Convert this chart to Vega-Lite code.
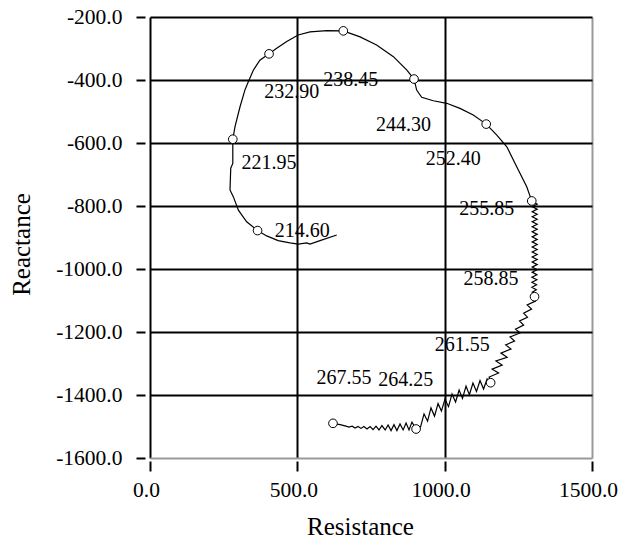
{
  "$schema": "https://vega.github.io/schema/vega-lite/v6.json",
  "width": 442,
  "height": 441,
  "autosize": {"type": "none"},
  "padding": {"left": 150, "top": 17, "right": 27, "bottom": 81},
  "background": "white",
  "config": {"view": {"stroke": null}, "font": "Liberation Serif"},
  "datasets": {
    "curve": [
      {"i":1,"R":633.7,"X":-892},{"i":2,"R":577,"X":-910},{"i":3,"R":543,"X":-921},{"i":4,"R":532,"X":-917},{"i":5,"R":503,"X":-921},
      {"i":6,"R":475,"X":-917},{"i":7,"R":435,"X":-910},{"i":8,"R":396,"X":-895},{"i":9,"R":365,"X":-878},{"i":10,"R":328,"X":-850},
      {"i":11,"R":300,"X":-813},{"i":12,"R":283,"X":-771},{"i":13,"R":271.5,"X":-749},{"i":14,"R":274,"X":-680},{"i":15,"R":281,"X":-665},
      {"i":16,"R":281,"X":-588},{"i":17,"R":288.5,"X":-548},{"i":18,"R":305.5,"X":-485},{"i":19,"R":322,"X":-432},{"i":20,"R":334,"X":-405},
      {"i":21,"R":351,"X":-368},{"i":22,"R":373,"X":-337},{"i":23,"R":404,"X":-317},{"i":24,"R":430,"X":-299},{"i":25,"R":464,"X":-278},
      {"i":26,"R":503,"X":-257},{"i":27,"R":543,"X":-247},{"i":28,"R":600,"X":-243},{"i":29,"R":656,"X":-244},{"i":30,"R":713,"X":-263},
      {"i":31,"R":769,"X":-289},{"i":32,"R":826,"X":-326},{"i":33,"R":871,"X":-368},{"i":34,"R":896,"X":-397},{"i":35,"R":905,"X":-432},
      {"i":36,"R":922,"X":-455},{"i":37,"R":961.5,"X":-466},{"i":38,"R":1007,"X":-474},{"i":39,"R":1052,"X":-490},{"i":40,"R":1097,"X":-511},
      {"i":41,"R":1141,"X":-540},{"i":42,"R":1177,"X":-575},{"i":43,"R":1211,"X":-612},{"i":44,"R":1239,"X":-665},{"i":45,"R":1261.5,"X":-707},
      {"i":46,"R":1278.5,"X":-739},{"i":47,"R":1295.5,"X":-784},{"i":48,"R":1314,"X":-794},{"i":49,"R":1297,"X":-802},{"i":50,"R":1314,"X":-810},
      {"i":51,"R":1297,"X":-818},{"i":52,"R":1314,"X":-826},{"i":53,"R":1297,"X":-834},{"i":54,"R":1314,"X":-842},{"i":55,"R":1297,"X":-850},
      {"i":56,"R":1314,"X":-858},{"i":57,"R":1297,"X":-866},{"i":58,"R":1314,"X":-874},{"i":59,"R":1297,"X":-882},{"i":60,"R":1314,"X":-890},
      {"i":61,"R":1297,"X":-898},{"i":62,"R":1314,"X":-906},{"i":63,"R":1297,"X":-914},{"i":64,"R":1314,"X":-922},{"i":65,"R":1297,"X":-930},
      {"i":66,"R":1314,"X":-938},{"i":67,"R":1297,"X":-946},{"i":68,"R":1314,"X":-954},{"i":69,"R":1297,"X":-962},{"i":70,"R":1314,"X":-970},
      {"i":71,"R":1297,"X":-978},{"i":72,"R":1314,"X":-986},{"i":73,"R":1297,"X":-994},{"i":74,"R":1314,"X":-1002},{"i":75,"R":1297,"X":-1010},
      {"i":76,"R":1313,"X":-1018},{"i":77,"R":1296,"X":-1026},{"i":78,"R":1313,"X":-1034},{"i":79,"R":1296,"X":-1042},{"i":80,"R":1312,"X":-1050},
      {"i":81,"R":1296,"X":-1058},{"i":82,"R":1311,"X":-1066},{"i":83,"R":1297,"X":-1074},{"i":84,"R":1305,"X":-1088},{"i":85,"R":1308,"X":-1102},
      {"i":86,"R":1280,"X":-1114},{"i":87,"R":1295,"X":-1127},{"i":88,"R":1268,"X":-1140},{"i":89,"R":1281,"X":-1153},{"i":90,"R":1254,"X":-1165},
      {"i":91,"R":1268,"X":-1178},{"i":92,"R":1240.5,"X":-1191},{"i":93,"R":1256,"X":-1203},{"i":94,"R":1222,"X":-1216},{"i":95,"R":1237,"X":-1229},
      {"i":96,"R":1207,"X":-1241},{"i":97,"R":1225,"X":-1254},{"i":98,"R":1191,"X":-1267},{"i":99,"R":1212,"X":-1280},{"i":100,"R":1174,"X":-1292},
      {"i":101,"R":1195,"X":-1305},{"i":102,"R":1161,"X":-1318},{"i":103,"R":1183,"X":-1330},{"i":104,"R":1151,"X":-1343},{"i":105,"R":1156,"X":-1361},
      {"i":106,"R":1144,"X":-1349},{"i":107,"R":1132,"X":-1381},{"i":108,"R":1120,"X":-1354},{"i":109,"R":1108,"X":-1389},{"i":110,"R":1096,"X":-1362},
      {"i":111,"R":1084,"X":-1399},{"i":112,"R":1072.5,"X":-1372},{"i":113,"R":1060.5,"X":-1411},{"i":114,"R":1049,"X":-1384},{"i":115,"R":1037,"X":-1422},
      {"i":116,"R":1025,"X":-1397},{"i":117,"R":1013,"X":-1437},{"i":118,"R":1001,"X":-1413},{"i":119,"R":989,"X":-1451},{"i":120,"R":977.5,"X":-1427},
      {"i":121,"R":965.5,"X":-1467},{"i":122,"R":953.5,"X":-1441},{"i":123,"R":942,"X":-1483},{"i":124,"R":930,"X":-1460},{"i":125,"R":918,"X":-1502},
      {"i":126,"R":903,"X":-1508},{"i":127,"R":889,"X":-1486},{"i":128,"R":879,"X":-1511},{"i":129,"R":869,"X":-1489},{"i":130,"R":859,"X":-1511},
      {"i":131,"R":848.5,"X":-1492},{"i":132,"R":838,"X":-1513},{"i":133,"R":828,"X":-1494},{"i":134,"R":818,"X":-1513},{"i":135,"R":808,"X":-1495},
      {"i":136,"R":798,"X":-1511},{"i":137,"R":787,"X":-1497},{"i":138,"R":777,"X":-1511},{"i":139,"R":767,"X":-1499},{"i":140,"R":757,"X":-1510},
      {"i":141,"R":747,"X":-1500},{"i":142,"R":736.5,"X":-1508},{"i":143,"R":726,"X":-1500},{"i":144,"R":716,"X":-1506},{"i":145,"R":706,"X":-1500},
      {"i":146,"R":696,"X":-1505},{"i":147,"R":686,"X":-1499},{"i":148,"R":675,"X":-1502},{"i":149,"R":665,"X":-1499},{"i":150,"R":645,"X":-1494},
      {"i":151,"R":621,"X":-1490}
    ],
    "marks": [
      {"f":"214.60","R":365,"X":-878,"LR":517,"LX":-878},
      {"f":"221.95","R":281,"X":-588,"LR":404,"LX":-665},
      {"f":"232.90","R":404,"X":-317,"LR":481,"LX":-437},
      {"f":"238.45","R":656,"X":-244,"LR":681,"LX":-400},
      {"f":"244.30","R":896,"X":-397,"LR":860,"LX":-543},
      {"f":"252.40","R":1141,"X":-540,"LR":1029,"LX":-652},
      {"f":"255.85","R":1295.5,"X":-784,"LR":1143,"LX":-811},
      {"f":"258.85","R":1305,"X":-1088,"LR":1157,"LX":-1032},
      {"f":"261.55","R":1156,"X":-1361,"LR":1060,"LX":-1241},
      {"f":"264.25","R":903,"X":-1508,"LR":868,"LX":-1353},
      {"f":"267.55","R":621,"X":-1490,"LR":658,"LX":-1347}
    ]
  },
  "layer": [
    {
      "data": {"name": "curve"},
      "mark": {"type": "line", "color": "black", "strokeWidth": 1.2},
      "encoding": {
        "x": {
          "field": "R", "type": "quantitative", "title": "Resistance",
          "scale": {"domain": [0, 1500], "nice": false, "zero": false},
          "axis": {
            "values": [0, 500, 1000, 1500],
            "labelExpr": "format(datum.value, '.1f')",
            "grid": true,
            "gridColor": {"condition": {"test": "datum.value == 1500", "value": "#9a9a9a"}, "value": "black"},
            "gridWidth": 2,
            "domain": false,
            "ticks": true, "tickColor": "black", "tickWidth": 2, "tickSize": 10,
            "offset": 3,
            "labelFont": "Liberation Serif", "labelFontSize": 21.5, "labelColor": "black",
            "labelPadding": 8, "labelOffset": -4, "labelFlush": false, "labelOverlap": false,
            "titleFont": "Liberation Serif", "titleFontSize": 25, "titleFontWeight": "normal", "titleColor": "black",
            "titleX": 210, "titleY": 73, "titleAlign": "center", "titleBaseline": "alphabetic"
          }
        },
        "y": {
          "field": "X", "type": "quantitative", "title": "Reactance",
          "scale": {"domain": [-1600, -200], "nice": false, "zero": false},
          "axis": {
            "values": [-1600, -1400, -1200, -1000, -800, -600, -400, -200],
            "labelExpr": "(datum.value < 0 ? '-' : '') + format(abs(datum.value), '.1f')",
            "grid": true,
            "gridColor": {"condition": {"test": "datum.value == -1600", "value": "#9a9a9a"}, "value": "black"},
            "gridWidth": 2,
            "domain": false,
            "ticks": true, "tickColor": "black", "tickWidth": 2, "tickSize": 9,
            "offset": 5,
            "labelFont": "Liberation Serif", "labelFontSize": 21.5, "labelColor": "black",
            "labelPadding": 14, "labelFlush": false, "labelOverlap": false,
            "titleFont": "Liberation Serif", "titleFontSize": 25, "titleFontWeight": "normal", "titleColor": "black",
            "titleX": -116, "titleY": 227, "titleAlign": "center", "titleBaseline": "alphabetic", "titleAngle": -90
          }
        },
        "order": {"field": "i", "type": "quantitative"}
      }
    },
    {
      "data": {"name": "marks"},
      "mark": {"type": "point", "shape": "circle", "filled": true, "fill": "white", "stroke": "black", "strokeWidth": 1, "size": 75, "opacity": 1},
      "encoding": {
        "x": {"field": "R", "type": "quantitative", "title": "Resistance"},
        "y": {"field": "X", "type": "quantitative", "title": "Reactance"}
      }
    },
    {
      "data": {"name": "marks"},
      "mark": {"type": "text", "font": "Liberation Serif", "fontSize": 20, "align": "center", "baseline": "middle", "color": "black"},
      "encoding": {
        "x": {"field": "LR", "type": "quantitative", "title": "Resistance"},
        "y": {"field": "LX", "type": "quantitative", "title": "Reactance"},
        "text": {"field": "f", "type": "nominal"}
      }
    }
  ]
}
